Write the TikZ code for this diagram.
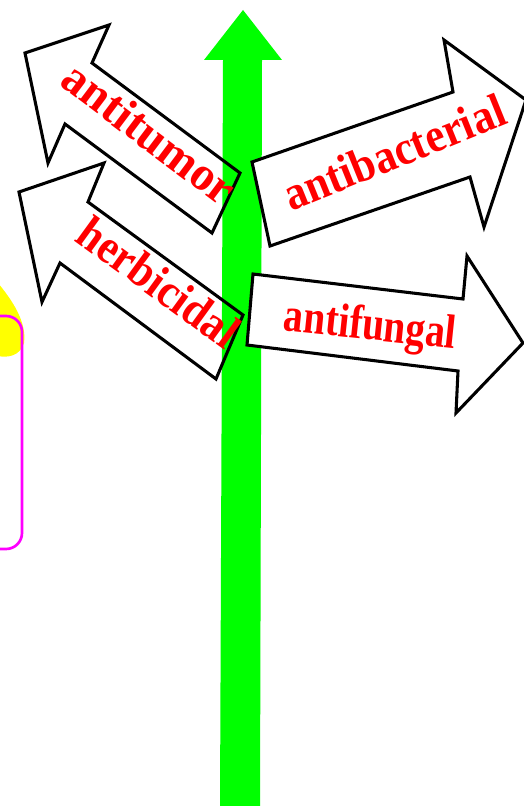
\documentclass[tikz,border=0pt]{standalone}
\usepackage{fontspec}
\setmainfont{Liberation Serif}
\definecolor{stemgreen}{RGB}{0,255,0}
\definecolor{labelred}{RGB}{255,0,0}
\definecolor{boxmagenta}{RGB}{255,0,255}
\definecolor{blobyellow}{RGB}{255,255,0}
\tikzset{
  signarrow/.style={line width=2.3pt, line join=miter, black},
  signlabel/.style={text=labelred, font=\fontsize{36}{36}\selectfont\bfseries, inner sep=0pt}
}
\begin{document}
\begin{tikzpicture}[x=0.75pt, y=-0.75pt]
  \useasboundingbox (0,0) rectangle (524,806);

  % Yellow blob and magenta box at the left edge
  \fill[blobyellow] (-2,283) .. controls (12,300) and (27,322) .. (24,343)
    .. controls (20,356) and (8,358) .. (-2,356) -- cycle;
  \draw[boxmagenta, line width=2pt, rounded corners=12pt]
    (-20,316) -- (22,316) -- (22,549) -- (-20,549);

  % Green stem
  \coordinate (T) at (243,10);
  \fill[stemgreen] (223,60) -- (204,60) -- (T) -- (282,60) -- (262,60)
    -- (260,806) -- (220,806) -- cycle;

  % Left arrows
  \coordinate (A1) at (240,173);
  \coordinate (A2) at (92,63);
  \coordinate (A3) at (109,25);
  \coordinate (A4) at (25,53);
  \coordinate (A5) at (48,163);
  \coordinate (A6) at (65,124);
  \coordinate (A7) at (212,233);
  \draw[signarrow] (A1) -- (A2) -- (A3) -- (A4) -- (A5) -- (A6) -- (A7) -- cycle;

  \coordinate (H1) at (243,315);
  \coordinate (H2) at (88,202);
  \coordinate (H3) at (104,163);
  \coordinate (H4) at (19,192);
  \coordinate (H5) at (42,302);
  \coordinate (H6) at (60,263);
  \coordinate (H7) at (216,379);
  \draw[signarrow] (H1) -- (H2) -- (H3) -- (H4) -- (H5) -- (H6) -- (H7) -- cycle;

  % Right arrows
  \coordinate (B1) at (252,162);
  \coordinate (B2) at (453,92);
  \coordinate (B3) at (444,40);
  \coordinate (B4) at (526,100);
  \coordinate (B5) at (484,227);
  \coordinate (B6) at (470,177);
  \coordinate (B7) at (270,246);
  \draw[signarrow, fill=white] (B1) -- (B2) -- (B3) -- (B4) -- (B5) -- (B6) -- (B7) -- cycle;

  \coordinate (F1) at (253,274);
  \coordinate (F2) at (463,299);
  \coordinate (F3) at (467,256);
  \coordinate (F4) at (523,343);
  \coordinate (F5) at (456,413);
  \coordinate (F6) at (458,371);
  \coordinate (F7) at (247,345);
  \draw[signarrow, fill=white] (F1) -- (F2) -- (F3) -- (F4) -- (F5) -- (F6) -- (F7) -- cycle;

  % Labels
  \node[signlabel, rotate=-37, xscale=0.98] (antitumor) at (150,133) {antitumor};
  \node[signlabel, rotate=-36, xscale=0.9] (herbicidal) at (159,282) {herbicidal};
  \node[signlabel, rotate=22, xscale=0.9] (antibacterial) at (394,152) {antibacterial};
  \node[signlabel, rotate=-6, xscale=0.82] (antifungal) at (370,328) {antifungal};
\end{tikzpicture}
\end{document}
